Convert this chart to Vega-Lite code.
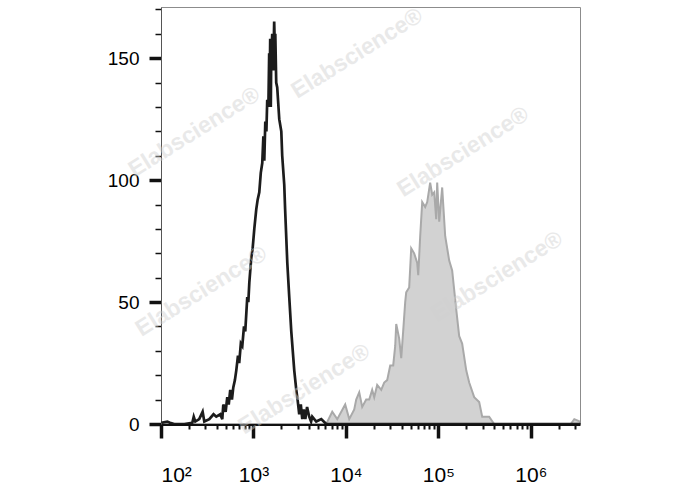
{
  "$schema": "https://vega.github.io/schema/vega-lite/v6.json",
  "autosize": "none",
  "padding": {"left": 161, "top": 7, "right": 108, "bottom": 66},
  "width": 419,
  "height": 417,
  "background": "white",
  "config": {
    "view": {"stroke": "#8c8c8c", "strokeWidth": 1},
    "font": "Liberation Sans"
  },
  "datasets": {
    "black": [
      {"x": 101, "count": 0.5}, {"x": 117, "count": 1}, {"x": 125, "count": 0.5}, {"x": 139, "count": 0},
      {"x": 179, "count": 0}, {"x": 218, "count": 0.5}, {"x": 226, "count": 3}, {"x": 235, "count": 1},
      {"x": 259, "count": 2}, {"x": 282, "count": 5}, {"x": 294, "count": 1}, {"x": 333, "count": 2},
      {"x": 370, "count": 4}, {"x": 396, "count": 3}, {"x": 438, "count": 4}, {"x": 460, "count": 2},
      {"x": 472, "count": 8}, {"x": 500, "count": 5}, {"x": 521, "count": 11}, {"x": 540, "count": 8},
      {"x": 561, "count": 14}, {"x": 585, "count": 10}, {"x": 605, "count": 15}, {"x": 630, "count": 18},
      {"x": 652, "count": 22}, {"x": 680, "count": 28}, {"x": 701, "count": 25}, {"x": 730, "count": 33},
      {"x": 757, "count": 32}, {"x": 790, "count": 40}, {"x": 815, "count": 38}, {"x": 857, "count": 52},
      {"x": 880, "count": 50}, {"x": 902, "count": 58}, {"x": 946, "count": 68}, {"x": 980, "count": 72},
      {"x": 1021, "count": 80}, {"x": 1072, "count": 88}, {"x": 1110, "count": 92}, {"x": 1156, "count": 95},
      {"x": 1200, "count": 103}, {"x": 1245, "count": 107}, {"x": 1280, "count": 118}, {"x": 1309, "count": 108},
      {"x": 1343, "count": 124}, {"x": 1380, "count": 120}, {"x": 1409, "count": 133}, {"x": 1450, "count": 130},
      {"x": 1479, "count": 152}, {"x": 1500, "count": 140}, {"x": 1517, "count": 158}, {"x": 1540, "count": 130},
      {"x": 1556, "count": 150}, {"x": 1596, "count": 160}, {"x": 1637, "count": 145}, {"x": 1675, "count": 165},
      {"x": 1700, "count": 155}, {"x": 1722, "count": 160}, {"x": 1762, "count": 140}, {"x": 1807, "count": 138},
      {"x": 1901, "count": 125}, {"x": 2000, "count": 120}, {"x": 2046, "count": 110}, {"x": 2153, "count": 98},
      {"x": 2200, "count": 88}, {"x": 2323, "count": 66}, {"x": 2438, "count": 52}, {"x": 2564, "count": 38},
      {"x": 2761, "count": 22}, {"x": 2904, "count": 14}, {"x": 3000, "count": 10}, {"x": 3126, "count": 4},
      {"x": 3250, "count": 8}, {"x": 3373, "count": 2}, {"x": 3500, "count": 6}, {"x": 3639, "count": 2},
      {"x": 3800, "count": 7}, {"x": 4009, "count": 3}, {"x": 4200, "count": 1}, {"x": 4325, "count": 3},
      {"x": 4775, "count": 1}, {"x": 5408, "count": 2}, {"x": 6124, "count": 0}, {"x": 7482, "count": 0},
      {"x": 3400000, "count": 0}
    ],
    "gray": [
      {"x": 101, "count": 0}, {"x": 6124, "count": 0}, {"x": 7112, "count": 5}, {"x": 8054, "count": 2},
      {"x": 9820, "count": 8}, {"x": 10860, "count": 2}, {"x": 12300, "count": 6}, {"x": 12920, "count": 10},
      {"x": 13930, "count": 13}, {"x": 15000, "count": 7}, {"x": 16560, "count": 10}, {"x": 17860, "count": 10},
      {"x": 19230, "count": 14}, {"x": 20230, "count": 11}, {"x": 21780, "count": 16}, {"x": 24090, "count": 14},
      {"x": 25940, "count": 17}, {"x": 27940, "count": 18}, {"x": 30130, "count": 24}, {"x": 32450, "count": 24},
      {"x": 34120, "count": 32}, {"x": 34990, "count": 41}, {"x": 37680, "count": 35}, {"x": 39630, "count": 27},
      {"x": 41590, "count": 38}, {"x": 43750, "count": 50}, {"x": 44870, "count": 54}, {"x": 48310, "count": 56},
      {"x": 50820, "count": 72}, {"x": 54700, "count": 70}, {"x": 59020, "count": 66}, {"x": 60530, "count": 61},
      {"x": 63550, "count": 77}, {"x": 66830, "count": 91}, {"x": 71950, "count": 89}, {"x": 75690, "count": 91},
      {"x": 81470, "count": 99}, {"x": 85700, "count": 94}, {"x": 90160, "count": 95}, {"x": 94660, "count": 84},
      {"x": 97050, "count": 99}, {"x": 102100, "count": 83}, {"x": 109900, "count": 97}, {"x": 118500, "count": 77},
      {"x": 130900, "count": 67}, {"x": 140900, "count": 63}, {"x": 155900, "count": 47}, {"x": 167900, "count": 36},
      {"x": 180700, "count": 33}, {"x": 200000, "count": 22}, {"x": 215300, "count": 17}, {"x": 243800, "count": 11},
      {"x": 276100, "count": 9}, {"x": 297700, "count": 3}, {"x": 354000, "count": 3}, {"x": 400900, "count": 0},
      {"x": 2700000, "count": 0}, {"x": 2950000, "count": 2}, {"x": 3400000, "count": 1}
    ],
    "marks": [
      {"x": 229, "count": 119.7, "text": "Elabscience®"},
      {"x": 13240, "count": 152, "text": "Elabscience®"},
      {"x": 185300, "count": 111.6, "text": "Elabscience®"},
      {"x": 273, "count": 54.4, "text": "Elabscience®"},
      {"x": 432500, "count": 60.5, "text": "Elabscience®"},
      {"x": 3540, "count": 14.3, "text": "Elabscience®"}
    ]
  },
  "encoding": {
    "x": {
      "field": "x", "type": "quantitative",
      "scale": {"type": "log", "domain": [100, 3400000], "nice": false, "zero": false},
      "axis": {
        "title": null,
        "grid": false,
        "values": [100, 200, 300, 400, 500, 600, 700, 800, 900, 1000, 2000, 3000, 4000, 5000, 6000, 7000, 8000, 9000, 10000, 20000, 30000, 40000, 50000, 60000, 70000, 80000, 90000, 100000, 200000, 300000, 400000, 500000, 600000, 700000, 800000, 900000, 1000000, 2000000, 3000000],
        "labelExpr": "datum.value == 100 ? '10²' : datum.value == 1000 ? '10³' : datum.value == 10000 ? '10⁴' : datum.value == 100000 ? '10⁵' : datum.value == 1000000 ? '10⁶' : ''",
        "labelFont": "Liberation Sans",
        "labelFontSize": 21,
        "labelColor": "#000000",
        "labelPadding": 26,
        "labelDx": 5,
        "labelFlush": true,
        "labelOverlap": false,
        "labelBound": false,
        "domainColor": "#111111",
        "domainWidth": 3,
        "tickColor": "#111111",
        "tickSize": {"condition": {"test": "abs(log(datum.value)/LN10 - round(log(datum.value)/LN10)) < 0.001", "value": 14}, "value": 5},
        "tickWidth": {"condition": {"test": "abs(log(datum.value)/LN10 - round(log(datum.value)/LN10)) < 0.001", "value": 3.5}, "value": 2}
      }
    },
    "y": {
      "field": "count", "type": "quantitative",
      "scale": {"domain": [0, 171], "nice": false, "zero": true},
      "axis": {
        "title": null,
        "grid": false,
        "values": [0, 10, 20, 30, 40, 50, 60, 70, 80, 90, 100, 110, 120, 130, 140, 150, 160, 170],
        "labelExpr": "datum.value % 50 == 0 ? datum.label : ''",
        "labelFont": "Liberation Sans",
        "labelFontSize": 19,
        "labelColor": "#000000",
        "labelPadding": 10,
        "labelOverlap": false,
        "labelBound": false,
        "domainColor": "#555555",
        "domainWidth": 1,
        "tickColor": "#111111",
        "tickSize": {"condition": {"test": "datum.value % 50 == 0", "value": 12}, "value": 6},
        "tickWidth": {"condition": {"test": "datum.value % 50 == 0", "value": 3.5}, "value": 1.5}
      }
    }
  },
  "layer": [
    {
      "data": {"name": "gray"},
      "mark": {"type": "area", "color": "#d2d2d2", "stroke": "#a9a9a9", "strokeWidth": 2, "clip": true},
      "encoding": {}
    },
    {
      "data": {"name": "black"},
      "mark": {"type": "line", "color": "#1c1c1c", "strokeWidth": 2.7, "clip": true},
      "encoding": {}
    },
    {
      "data": {"name": "marks"},
      "mark": {"type": "text", "angle": -32, "font": "Liberation Sans", "fontWeight": "bold", "fontSize": 23, "color": "#d0d0d0", "opacity": 0.45, "align": "center", "baseline": "middle"},
      "encoding": {"text": {"field": "text"}}
    }
  ]
}
